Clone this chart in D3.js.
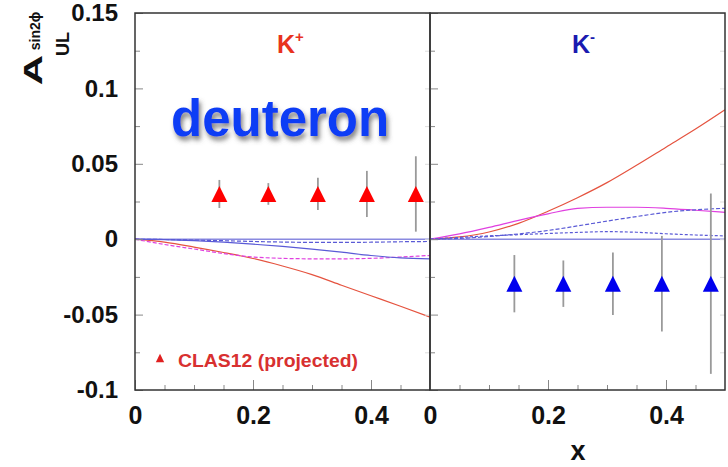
<!DOCTYPE html>
<html>
<head>
<meta charset="utf-8">
<script src="https://cdn.jsdelivr.net/npm/d3@7"></script>
<style>
  html, body { margin: 0; padding: 0; background: #fff; }
  svg { display: block; }
  text { font-family: "Liberation Sans", Arial, Helvetica, sans-serif; font-weight: bold; }
</style>
</head>
<body>
<svg id="chart" width="728" height="467"></svg>
<script>
// ---------------- data ----------------
const xGrid = [0, 0.05, 0.1, 0.15, 0.2, 0.25, 0.3, 0.35, 0.4, 0.45, 0.5];

// K+ panel model curves
const kpRed        = [0, -0.002, -0.0052, -0.0088, -0.0128, -0.0178, -0.0235, -0.0305, -0.0375, -0.0445, -0.0516];
const kpMagentaDash= [0, -0.0035, -0.0065, -0.0095, -0.0118, -0.0127, -0.013, -0.013, -0.0127, -0.0118, -0.0108];
const kpBlueSolid  = [0, -0.0003, -0.001, -0.002, -0.0033, -0.0048, -0.0066, -0.0086, -0.0108, -0.0124, -0.013];
const kpBlueDash   = [0, -0.0002, -0.0006, -0.001, -0.0015, -0.0019, -0.0021, -0.0021, -0.002, -0.0017, -0.0015];

// K- panel model curves
const kmRed        = [0, 0.0015, 0.0048, 0.0105, 0.0185, 0.0275, 0.0375, 0.049, 0.061, 0.073, 0.0858];
const kmMagenta    = [0, 0.0035, 0.0078, 0.0125, 0.0168, 0.0205, 0.0212, 0.0212, 0.0205, 0.0192, 0.0178];
const kmBlueDashHi = [0, 0.0005, 0.0018, 0.0035, 0.0058, 0.0088, 0.012, 0.015, 0.0178, 0.0195, 0.0205];
const kmBlueDashLo = [0, 0.0012, 0.0022, 0.003, 0.0038, 0.0045, 0.005, 0.0046, 0.0036, 0.0028, 0.0022];

// CLAS12 projected points
const ptX      = [0.143, 0.226, 0.31, 0.393, 0.476];
const kpPtY    = [0.03, 0.03, 0.03, 0.03, 0.03];
const kpPtErr  = [0.0093, 0.0072, 0.0107, 0.0153, 0.025];
const kmPtY    = [-0.0295, -0.0295, -0.0295, -0.0295, -0.0295];
const kmPtErr  = [0.019, 0.0154, 0.0207, 0.0317, 0.0598];

// axes
const yTickVals   = [-0.1, -0.05, 0, 0.05, 0.1, 0.15];
const yTickLabels = ["-0.1", "-0.05", "0", "0.05", "0.1", "0.15"];
const yMinorVals  = [-0.075, -0.025, 0.025, 0.075, 0.125];
const xTickVals   = [0, 0.2, 0.4];
const xTickLabels = ["0", "0.2", "0.4"];
const xMinorVals  = [0.05, 0.1, 0.15, 0.25, 0.3, 0.35, 0.45];

// ---------------- drawing ----------------
const svg = d3.select("#chart");
svg.append("rect").attr("width", 728).attr("height", 467).attr("fill", "#fff");

const defs = svg.append("defs");
const flt = defs.append("filter").attr("id", "shadow").attr("x", "-10%").attr("y", "-20%").attr("width", "130%").attr("height", "160%");
flt.append("feDropShadow").attr("dx", 2).attr("dy", 4).attr("stdDeviation", 2.5)
   .attr("flood-color", "#555").attr("flood-opacity", 0.75);

const plotTop = 13, plotBottom = 390;
const y = d3.scaleLinear().domain([-0.1, 0.15]).range([plotBottom, plotTop]);
const xL = d3.scaleLinear().domain([0, 0.5]).range([135, 430]);
const xR = d3.scaleLinear().domain([0, 0.5]).range([430, 725]);

const triType = {
  draw(ctx, size) {
    const r = Math.sqrt(size) / 2;
    ctx.moveTo(0, -r); ctx.lineTo(r, r); ctx.lineTo(-r, r); ctx.closePath();
  }
};

function panel(x, curves, ptY, ptErr, ptColor, leftLabels) {
  const g = svg.append("g");
  // zero line
  g.append("line").attr("x1", x(0)).attr("x2", x(0.5)).attr("y1", y(0)).attr("y2", y(0))
   .attr("stroke", "#8a8ae0").attr("stroke-width", 1.6);
  // curves
  curves.forEach(c => {
    const line = d3.line().x((d, i) => x(xGrid[i])).y(d => y(d)).curve(d3.curveMonotoneX);
    g.append("path").attr("d", line(c.values)).attr("fill", "none")
     .attr("stroke", c.color).attr("stroke-width", 1.2)
     .attr("stroke-dasharray", c.dash || null);
  });
  // error bars
  g.selectAll(".err").data(ptX).join("line")
   .attr("x1", d => x(d)).attr("x2", d => x(d))
   .attr("y1", (d, i) => y(ptY[i] + ptErr[i])).attr("y2", (d, i) => y(ptY[i] - ptErr[i]))
   .attr("stroke", "#9a9a9a").attr("stroke-width", 1.8);
  // markers
  g.selectAll(".mk").data(ptX).join("path")
   .attr("transform", (d, i) => `translate(${x(d)},${y(ptY[i])})`)
   .attr("d", d3.symbol(triType, 256)())
   .attr("fill", ptColor);

  // y axis ticks on panel left edge (inward)
  const yAx = d3.axisLeft(y).tickValues(yTickVals).tickSize(-8).tickPadding(17)
    .tickFormat((d, i) => leftLabels ? yTickLabels[i] : "");
  const ga = g.append("g").attr("transform", `translate(${x(0)},0)`).call(yAx);
  ga.select(".domain").remove();
  ga.selectAll(".tick line").attr("stroke", "#888");
  ga.selectAll(".tick text").attr("font-size", 24).attr("fill", "#111")
    .attr("font-family", "'Liberation Sans', Arial, sans-serif").attr("font-weight", "bold");
  const yMin = d3.axisLeft(y).tickValues(yMinorVals).tickSize(-5).tickFormat("");
  const gm = g.append("g").attr("transform", `translate(${x(0)},0)`).call(yMin);
  gm.select(".domain").remove();
  gm.selectAll(".tick line").attr("stroke", "#888");

  // faint ticks on the right edge
  const yR = d3.axisRight(y).tickValues(yTickVals.concat(yMinorVals)).tickSize(-5).tickFormat("");
  const gr = g.append("g").attr("transform", `translate(${x(0.5)},0)`).call(yR);
  gr.select(".domain").remove();
  gr.selectAll(".tick line").attr("stroke", "#ddd");

  // x axis
  const xAx = d3.axisBottom(x).tickValues(xTickVals).tickSize(-10).tickPadding(16)
    .tickFormat((d, i) => xTickLabels[i]);
  const gx = g.append("g").attr("transform", `translate(0,${plotBottom})`).call(xAx);
  gx.select(".domain").remove();
  gx.selectAll(".tick line").attr("stroke", "#888");
  gx.selectAll(".tick text").attr("font-size", 25).attr("fill", "#111")
    .attr("font-family", "'Liberation Sans', Arial, sans-serif").attr("font-weight", "bold");
  const xMin = d3.axisBottom(x).tickValues(xMinorVals).tickSize(-5).tickFormat("");
  const gxm = g.append("g").attr("transform", `translate(0,${plotBottom})`).call(xMin);
  gxm.select(".domain").remove();
  gxm.selectAll(".tick line").attr("stroke", "#888");

  // frame
  g.append("rect").attr("x", x(0)).attr("y", plotTop).attr("width", x(0.5) - x(0)).attr("height", plotBottom - plotTop)
   .attr("fill", "none").attr("stroke", "#333").attr("stroke-width", 1.5);
  return g;
}

const red = "#e5533f", magenta = "#e040e0", blue = "#5a5ad6";

panel(xL, [
  { values: kpRed, color: red },
  { values: kpMagentaDash, color: magenta, dash: "4,2" },
  { values: kpBlueSolid, color: blue },
  { values: kpBlueDash, color: blue, dash: "4,2" }
], kpPtY, kpPtErr, "#ff0000", true);

panel(xR, [
  { values: kmRed, color: red },
  { values: kmMagenta, color: magenta },
  { values: kmBlueDashHi, color: blue, dash: "4,2" },
  { values: kmBlueDashLo, color: blue, dash: "3,2" }
], kmPtY, kmPtErr, "#0000ee", false);

// panel labels
const kp = svg.append("text").attr("x", 277).attr("y", 53).attr("font-size", 25).attr("fill", "#e8321e").text("K");
kp.append("tspan").attr("font-size", 15).attr("dy", -11).text("+");
const km = svg.append("text").attr("x", 572).attr("y", 53).attr("font-size", 25).attr("fill", "#1a1ab0").text("K");
km.append("tspan").attr("font-size", 15).attr("dy", -11).text("-");

// deuteron
svg.append("text").attr("x", 171).attr("y", 136).attr("font-size", 51).attr("fill", "#0b3cf5")
   .attr("filter", "url(#shadow)").text("deuteron");

// legend
svg.append("path").attr("transform", "translate(160,358)").attr("d", d3.symbol(triType, 70)()).attr("fill", "#e02020");
svg.append("text").attr("x", 178).attr("y", 367).attr("font-size", 18.5).attr("fill", "#d83030")
   .attr("textLength", 180).attr("lengthAdjust", "spacingAndGlyphs").text("CLAS12 (projected)");

// x title
svg.append("text").attr("x", 578).attr("y", 460).attr("text-anchor", "middle").attr("font-size", 27).attr("fill", "#111").text("x");

// y title
svg.append("text").attr("transform", "translate(42,70) rotate(-90) scale(1,0.62)")
   .attr("text-anchor", "middle").attr("font-size", 42).attr("fill", "#111").text("A");
svg.append("text").attr("transform", "translate(40,31) rotate(-90)")
   .attr("text-anchor", "middle").attr("font-size", 14).attr("fill", "#111").text("sin2\u03D5");
svg.append("text").attr("transform", "translate(69,44) rotate(-90)")
   .attr("text-anchor", "middle").attr("font-size", 18).attr("fill", "#111").text("UL");
</script>
</body>
</html>
